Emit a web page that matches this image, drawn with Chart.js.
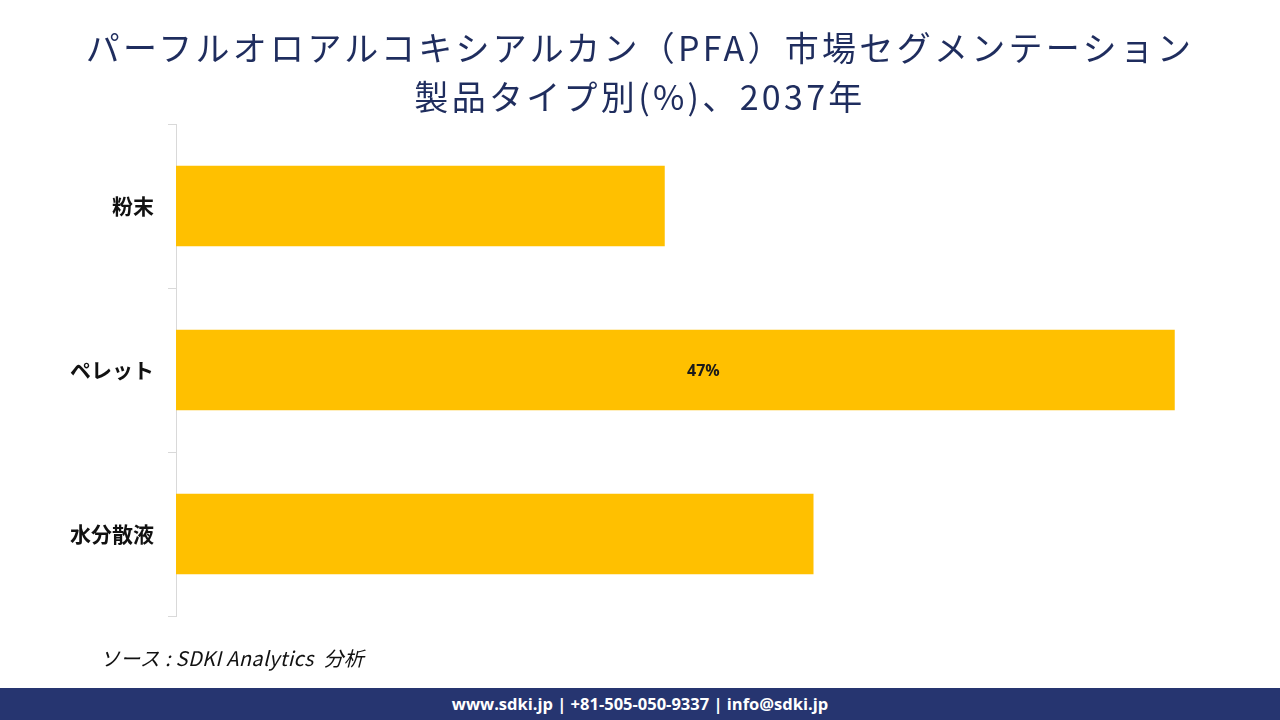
<!DOCTYPE html>
<html>
<head>
<meta charset="utf-8">
<script src="https://cdn.jsdelivr.net/npm/chart.js@4"></script>
<style>
  html, body { margin: 0; padding: 0; background: #fff; }
  #wrap { position: relative; width: 1280px; height: 720px; overflow: hidden; }
  #title { position: absolute; left: 0; top: 22px; width: 1280px; text-align: center;
    font-family: "Noto Sans CJK JP", sans-serif; font-size: 34px; line-height: 49px;
    letter-spacing: 3.3px; color: #1f2d5e; font-weight: 400; }
  #chart { position: absolute; left: 0; top: 0; }
  #source { position: absolute; left: 100px; top: 643px; font-family: "Noto Sans CJK JP", sans-serif;
    font-size: 20px; font-style: italic; color: #111; white-space: pre; letter-spacing: 0.35px; }
  #footer { position: absolute; left: 0; top: 688px; width: 1280px; height: 32px; background: #263570;
    color: #fff; text-align: center; font-family: "Open Sans", sans-serif; font-weight: 700;
    font-size: 16.5px; line-height: 32px; }
</style>
</head>
<body>
<div id="wrap">
  <canvas id="chart" width="1280" height="720"></canvas>
  <div id="title">パーフルオロアルコキシアルカン（PFA）市場セグメンテーション<br>製品タイプ別(%)、2037年</div>
  <div id="source">ソース : SDKI Analytics  分析</div>
  <div id="footer">www.sdki.jp | +81-505-050-9337 | info@sdki.jp</div>
</div>
<script>
const categories = ["粉末", "ペレット", "水分散液"];
const shares = [23, 47, 30];
const shownLabels = ["", "47%", ""];

const labelPlugin = {
  id: 'barLabels',
  afterDatasetsDraw(chart) {
    const ctx = chart.ctx;
    const meta = chart.getDatasetMeta(0);
    ctx.save();
    ctx.font = 'bold 16px "Open Sans", sans-serif';
    ctx.fillStyle = '#1a1a1a';
    ctx.textAlign = 'center';
    ctx.textBaseline = 'middle';
    meta.data.forEach((bar, i) => {
      const t = shownLabels[i];
      if (!t) return;
      const x = bar.base + (bar.x - bar.base) * 0.528;
      ctx.fillText(t, x, bar.y + 1);
    });
    ctx.restore();
  }
};

new Chart(document.getElementById('chart'), {
  type: 'bar',
  data: {
    labels: categories,
    datasets: [{
      data: shares,
      backgroundColor: '#FFC000',
      borderWidth: 0,
      barPercentage: 0.49,
      categoryPercentage: 1.0
    }]
  },
  options: {
    indexAxis: 'y',
    responsive: false,
    animation: false,
    layout: { padding: { left: 0, right: 84, top: 124, bottom: 104 } },
    plugins: { legend: { display: false }, tooltip: { enabled: false }, title: { display: false } },
    scales: {
      x: { display: false, min: 0, max: 48 },
      y: {
        afterFit(scale) { scale.width = 176; },
        grid: { drawOnChartArea: false, drawTicks: true, tickLength: 8, color: '#d9d9d9', offset: true },
        border: { display: true, color: '#d9d9d9', width: 1 },
        ticks: {
          color: '#111',
          padding: 14,
          font: { family: '"Noto Sans CJK JP", sans-serif', size: 21, weight: 'bold' }
        }
      }
    }
  },
  plugins: [labelPlugin]
});
</script>
</body>
</html>
